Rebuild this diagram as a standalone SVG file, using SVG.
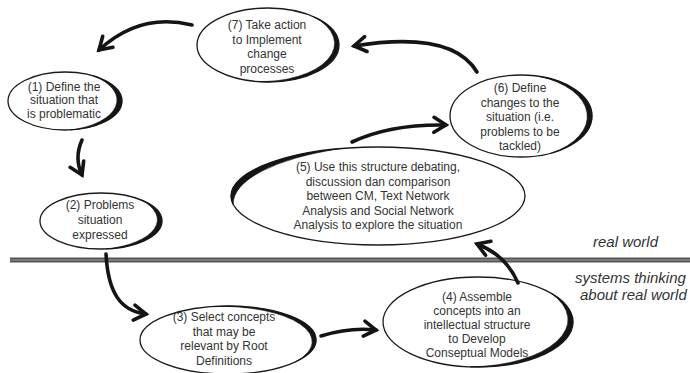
<svg xmlns="http://www.w3.org/2000/svg" width="690" height="373" viewBox="0 0 690 373">
<style>
.ell{fill:none;stroke:#1a1a1a;stroke-width:1.3}
.cr{fill:#141414;stroke:#141414;stroke-width:0.6}
.t{font-family:"Liberation Sans",Arial,sans-serif;font-size:12px;fill:#333;text-anchor:middle}
.lbl{font-family:"Liberation Sans",Arial,sans-serif;font-size:15px;font-style:italic;fill:#333}
.arr{fill:none;stroke:#141414;stroke-width:3.6;stroke-linecap:round;marker-end:url(#ah)}
</style>
<defs>
<marker id="ah" markerUnits="userSpaceOnUse" viewBox="0 0 20 20" markerWidth="20" markerHeight="20" refX="15" refY="10" orient="auto">
<path d="M3,2.5 L15,10 L3,17.5" fill="none" stroke="#141414" stroke-width="3.6" stroke-linecap="round" stroke-linejoin="miter"/>
</marker>
</defs>
<rect width="690" height="373" fill="#fff"/>
<g id="divider">
<rect x="10" y="257.5" width="680" height="5" fill="#555"/>
<line x1="10" y1="260" x2="690" y2="260" stroke="#a0a0a0" stroke-width="1.2"/>
</g>
<g id="labels">
<text class="lbl" x="593" y="247">real world</text>
<text class="lbl" x="575" y="283">systems thinking</text>
<text class="lbl" x="580" y="300">about real world</text>
</g>
<g id="connectors">
<path class="arr" d="M192,25 Q140,12 99,50"/>
<path class="arr" d="M82,140 Q74,158 82,175"/>
<path class="arr" d="M106,254 C108,292 120,311 146,314"/>
<path class="arr" d="M321,336 Q350,327 376,330"/>
<path class="arr" d="M518,283 Q506,255 477,244"/>
<path class="arr" d="M352,142 Q390,124 446,125"/>
<path class="arr" d="M477,72 Q452,30 354,46"/>
</g>
<g id="node-7">
<ellipse class="ell" cx="268" cy="45" rx="71" ry="37"/>
<path class="cr" d="M313.6,16.7 A71,37 0 0 1 255.7,81.4 A73.2,38.1 0 0 0 313.6,16.7 Z"/>
<text class="t" x="267" y="29">(7) Take action</text>
<text class="t" x="267" y="43.5">to Implement</text>
<text class="t" x="267" y="58">change</text>
<text class="t" x="267" y="72.5">processes</text>
</g>
<g id="node-1">
<ellipse class="ell" cx="65" cy="101" rx="57" ry="29"/>
<path class="cr" d="M93.5,75.9 A57,29 0 0 1 70,129.9 A59.9,30.5 0 0 0 93.5,75.9 Z"/>
<text class="t" x="64" y="90.5">(1) Define the</text>
<text class="t" x="64" y="104">situation that</text>
<text class="t" x="64" y="117.5">is problematic</text>
</g>
<g id="node-2">
<ellipse class="ell" cx="101" cy="221" rx="61" ry="28"/>
<path class="cr" d="M140.2,199.6 A61,28 0 0 1 106.3,248.9 A65,29.8 0 0 0 140.2,199.6 Z"/>
<text class="t" x="100" y="209">(2) Problems</text>
<text class="t" x="100" y="224">situation</text>
<text class="t" x="100" y="239">expressed</text>
</g>
<g id="node-3">
<ellipse class="ell" cx="228" cy="340" rx="88" ry="34"/>
<path class="cr" d="M212.7,306.5 A88,34 0 0 1 295.4,361.9 A91.1,35.2 0 0 0 212.7,306.5 Z"/>
<text class="t" x="224" y="321">(3) Select concepts</text>
<text class="t" x="224" y="335.5">that may be</text>
<text class="t" x="224" y="350">relevant by Root</text>
<text class="t" x="224" y="364.5">Definitions</text>
</g>
<g id="node-4">
<ellipse class="ell" cx="478" cy="322" rx="95" ry="45"/>
<path class="cr" d="M550.8,293.1 A95,45 0 0 1 469.7,366.8 A99.6,47.2 0 0 0 550.8,293.1 Z"/>
<text class="t" x="477" y="301">(4) Assemble</text>
<text class="t" x="477" y="315">concepts into an</text>
<text class="t" x="477" y="329">intellectual structure</text>
<text class="t" x="477" y="343">to Develop</text>
<text class="t" x="477" y="357">Conseptual Models</text>
</g>
<g id="node-5">
<ellipse class="ell" cx="378" cy="196" rx="147" ry="49"/>
<path class="cr" d="M233.2,204.5 A147,49 0 0 1 339.9,148.7 A181.3,60.4 0 0 0 233.2,204.5 Z"/>
<text class="t" x="378" y="171">(5) Use this structure debating,</text>
<text class="t" x="378" y="185.5">discussion dan comparison</text>
<text class="t" x="378" y="200">between CM, Text Network</text>
<text class="t" x="378" y="214.5">Analysis and Social Network</text>
<text class="t" x="378" y="229">Analysis to explore the situation</text>
</g>
<g id="node-6">
<ellipse class="ell" cx="521" cy="116" rx="71" ry="41"/>
<path class="cr" d="M539.4,76.4 A71,41 0 0 1 551,153.2 A74.2,42.8 0 0 0 539.4,76.4 Z"/>
<text class="t" x="520" y="92">(6) Define</text>
<text class="t" x="520" y="106.5">changes to the</text>
<text class="t" x="520" y="121">situation (i.e.</text>
<text class="t" x="520" y="135.5">problems to be</text>
<text class="t" x="520" y="150">tackled)</text>
</g>
</svg>
